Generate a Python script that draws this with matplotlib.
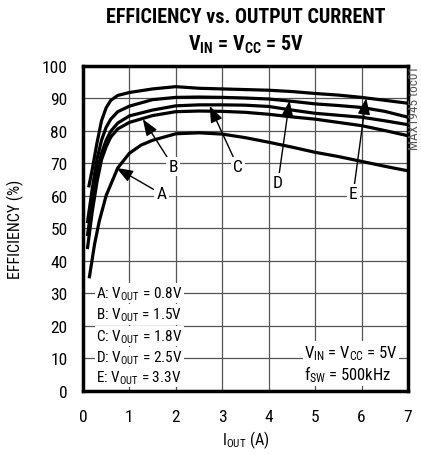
import matplotlib
matplotlib.use('Agg')
import matplotlib.pyplot as plt

plt.rcParams['font.family'] = ['Roboto Condensed', 'DejaVu Sans']

# Datos (eficiencia % vs corriente de salida A)
x_a = [0.14, 0.25, 0.35, 0.5, 0.75, 1.0, 1.25, 1.5, 2.0, 2.5, 3.0, 3.5, 4.0, 4.5, 5.0, 5.5, 6.0, 6.5, 7.0]
eff_a = [35, 45, 52, 60, 68.5, 73, 75.5, 77, 79, 79.3, 78.9, 77.8, 76.4, 74.9, 73.3, 72, 70.5, 69, 67.6]

x_bcd = [0.1, 0.2, 0.3, 0.4, 0.5, 0.6, 0.75, 1.0, 1.5, 2.0, 2.5, 3.0, 3.5, 4.0, 4.5, 5.0, 5.5, 6.0, 6.5, 7.0]
eff_b = [44, 55, 64, 71, 75, 78, 80.5, 82.5, 84.6, 85.8, 86, 85.9, 85.6, 85, 84.2, 83.5, 82.5, 81.5, 80, 78.4]
eff_c = [48, 58, 67, 73, 77, 79.8, 82.3, 84.5, 86.3, 87.6, 87.9, 87.9, 87.8, 87.4, 86.3, 85.3, 84.7, 84.1, 83, 81.8]
eff_d = [52, 62, 71, 77, 81, 83.5, 85.8, 87.5, 89.5, 90.2, 90.3, 90.2, 90, 89.7, 89, 88.2, 87.7, 87.1, 85.9, 84.1]

x_e = [0.13, 0.2, 0.3, 0.4, 0.5, 0.6, 0.75, 1.0, 1.5, 2.0, 2.5, 3.0, 3.5, 4.0, 4.5, 5.0, 5.5, 6.0, 6.5, 7.0]
eff_e = [63, 68, 76, 83, 87, 89.3, 90.8, 91.7, 92.8, 93.5, 93, 92.8, 92.6, 92.4, 92, 91.4, 90.9, 90.2, 89.3, 88.4]

etiquetas = ['A', 'B', 'C', 'D', 'E']
pos_etiqueta = [(1.69, 60.5), (1.94, 69), (3.33, 69), (4.2, 64), (5.82, 60.5)]
pos_flecha = [(0.72, 68.5), (1.29, 83.5), (2.73, 87.6), (4.45, 89.2), (6.1, 90.0)]

leyenda = ['A: $\\mathregular{V_{OUT}}$ = 0.8V', 'B: $\\mathregular{V_{OUT}}$ = 1.5V',
           'C: $\\mathregular{V_{OUT}}$ = 1.8V', 'D: $\\mathregular{V_{OUT}}$ = 2.5V',
           'E: $\\mathregular{V_{OUT}}$ = 3.3V']
y_leyenda = [30, 23.4, 16.8, 10.3, 4.1]

fig = plt.figure(figsize=(4.21, 4.56), dpi=100)
ax = fig.add_axes([0.197, 0.1414, 0.772, 0.7127])

ax.plot(x_a, eff_a, color='black', lw=2.3, zorder=3)
ax.plot(x_bcd, eff_b, color='black', lw=2.3, zorder=3)
ax.plot(x_bcd, eff_c, color='black', lw=2.3, zorder=3)
ax.plot(x_bcd, eff_d, color='black', lw=2.3, zorder=3)
ax.plot(x_e, eff_e, color='black', lw=2.3, zorder=3)

ax.set_xlim(0, 7)
ax.set_ylim(0, 100)
ax.set_xticks(range(0, 8))
ax.set_yticks(range(0, 101, 10))
ax.tick_params(length=0, labelsize=12.5)
ax.tick_params(axis='x', pad=13)
ax.tick_params(axis='y', pad=11)
ax.grid(True, color='#555555', lw=0.9)
ax.set_axisbelow(True)
for s in ax.spines.values():
    s.set_linewidth(2.5)

ax.set_xlabel('$\\mathregular{I_{OUT}}$ (A)', fontsize=11.5)
ax.set_ylabel('EFFICIENCY (%)', fontsize=11.5)
ax.xaxis.set_label_coords(0.5, -0.115)
ax.yaxis.set_label_coords(-0.18, 0.5)

# Etiquetas con flechas
for lab, pt, tip in zip(etiquetas, pos_etiqueta, pos_flecha):
    ax.annotate(lab, xy=tip, xytext=pt, fontsize=12.5, ha='center', va='center',
                bbox=dict(fc='white', ec='none', pad=1.5), zorder=4,
                arrowprops=dict(arrowstyle='-|>,head_length=0.8,head_width=0.3',
                                color='black', lw=1.0, shrinkA=0, shrinkB=0))

for txt, yy in zip(leyenda, y_leyenda):
    ax.text(0.29, yy, txt, fontsize=11, ha='left', va='center',
            bbox=dict(fc='white', ec='none', pad=1), zorder=4)

ax.text(4.77, 11.8, '$\\mathregular{V_{IN}}$ = $\\mathregular{V_{CC}}$ = 5V', fontsize=12,
        ha='left', va='center', bbox=dict(fc='white', ec='none', pad=1), zorder=4)
ax.text(4.77, 5.1, '$\\mathregular{f_{SW}}$ = 500kHz', fontsize=12,
        ha='left', va='center', bbox=dict(fc='white', ec='none', pad=1), zorder=4)

fig.text(0.584, 0.961, 'EFFICIENCY vs. OUTPUT CURRENT', fontsize=14.5, fontweight='bold',
         ha='center', va='center')
fig.text(0.584, 0.901, '$\\mathregular{V_{IN}}$ = $\\mathregular{V_{CC}}$ = 5V', fontsize=14.5,
         fontweight='bold', ha='center', va='center')
fig.text(0.985, 0.855, 'MAX1945 toc01', fontsize=9.5, rotation=90, ha='center', va='top',
         color='#555555')

plt.savefig('out.png', dpi=100)
